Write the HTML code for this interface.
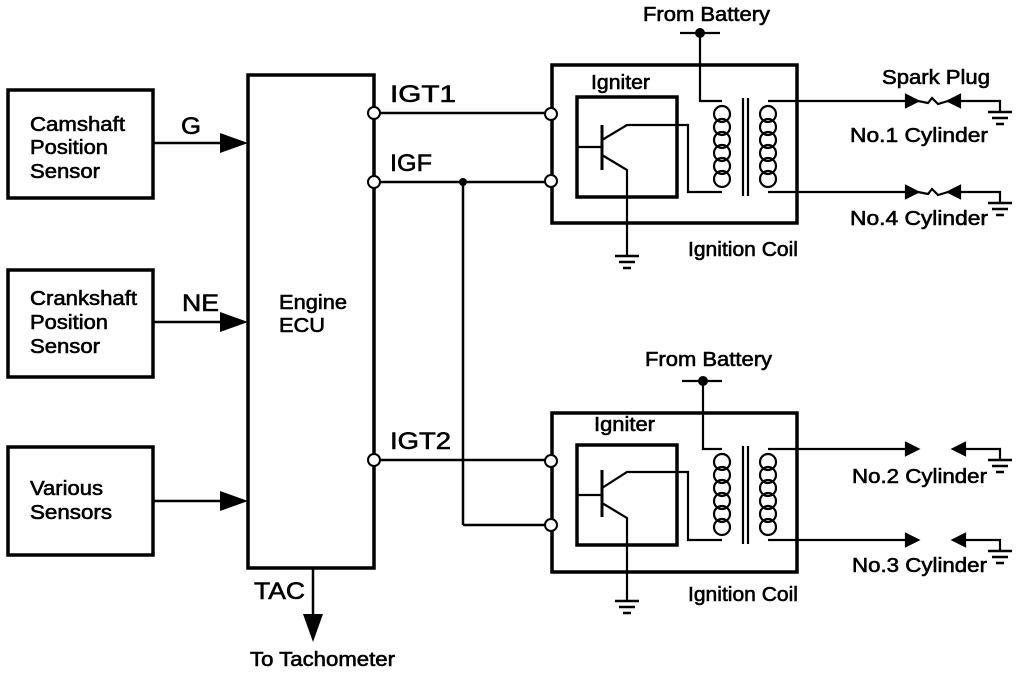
<!DOCTYPE html>
<html><head><meta charset="utf-8"><style>
html,body{margin:0;padding:0;background:#fff;}
svg{display:block;}
text{font-family:"Liberation Sans",sans-serif;fill:#000;stroke:#000;stroke-width:0.6;}
</style></head><body>
<svg width="1024" height="674" viewBox="0 0 1024 674" xmlns="http://www.w3.org/2000/svg">
<defs>
<g id="coil" fill="none" stroke="#000" stroke-width="2.2">
  <ellipse cx="0" cy="0" rx="8" ry="8"/><ellipse cx="0" cy="13" rx="8" ry="8"/><ellipse cx="0" cy="26" rx="8" ry="8"/><ellipse cx="0" cy="39" rx="8" ry="8"/><ellipse cx="0" cy="52" rx="8" ry="8"/><ellipse cx="0" cy="65" rx="8" ry="8"/>
</g>
<g id="gnd" stroke="#000" stroke-width="2.5">
  <line x1="-12" y1="0" x2="12" y2="0"/><line x1="-8" y1="6" x2="8" y2="6"/><line x1="-4" y1="12" x2="4" y2="12"/>
</g>
</defs>
<g fill="none" stroke="#000" stroke-width="3.5">
  <rect x="8" y="90" width="145" height="108"/>
  <rect x="8" y="270" width="145" height="107"/>
  <rect x="8" y="447" width="145" height="108"/>
  <rect x="248" y="75" width="126" height="493"/>
</g>
<g stroke="#000" stroke-width="2.5">
  <line x1="153" y1="143" x2="225" y2="143"/>
  <line x1="153" y1="322" x2="225" y2="322"/>
  <line x1="153" y1="501" x2="225" y2="501"/>
  <line x1="313" y1="568" x2="313" y2="620"/>
  <line x1="380" y1="113" x2="545" y2="113"/>
  <line x1="380" y1="182" x2="545" y2="182"/>
  <line x1="380" y1="460" x2="545" y2="460"/>
  <line x1="463" y1="182" x2="463" y2="525"/>
  <line x1="463" y1="525" x2="545" y2="525"/>
</g>
<g fill="#000">
  <polygon points="220,133 248,143 220,153"/>
  <polygon points="220,312 248,322 220,332"/>
  <polygon points="220,491 248,501 220,511"/>
  <polygon points="303,614 323,614 313,642"/>
  <circle cx="463" cy="182" r="4"/>
</g>
<g fill="#fff" stroke="#000" stroke-width="2">
  <circle cx="374" cy="113" r="6"/><circle cx="374" cy="182" r="6"/><circle cx="374" cy="460" r="6"/>
</g>
<g font-size="20">
<text x="30" y="131" textLength="95" lengthAdjust="spacingAndGlyphs">Camshaft</text>
<text x="30" y="154" textLength="78" lengthAdjust="spacingAndGlyphs">Position</text>
<text x="30" y="178" textLength="70" lengthAdjust="spacingAndGlyphs">Sensor</text>
<text x="30" y="305" textLength="107" lengthAdjust="spacingAndGlyphs">Crankshaft</text>
<text x="30" y="329" textLength="78" lengthAdjust="spacingAndGlyphs">Position</text>
<text x="30" y="353" textLength="70" lengthAdjust="spacingAndGlyphs">Sensor</text>
<text x="30" y="495" textLength="73" lengthAdjust="spacingAndGlyphs">Various</text>
<text x="30" y="519" textLength="82" lengthAdjust="spacingAndGlyphs">Sensors</text>
<text x="279" y="309" textLength="68" lengthAdjust="spacingAndGlyphs">Engine</text>
<text x="279" y="332" textLength="46" lengthAdjust="spacingAndGlyphs">ECU</text>
</g>
<g font-size="24">
<text x="181" y="134" textLength="20" lengthAdjust="spacingAndGlyphs">G</text>
<text x="182" y="311" textLength="37" lengthAdjust="spacingAndGlyphs">NE</text>
<text x="390" y="102" textLength="66" lengthAdjust="spacingAndGlyphs">IGT1</text>
<text x="390" y="171" textLength="42" lengthAdjust="spacingAndGlyphs">IGF</text>
<text x="390" y="449" textLength="61" lengthAdjust="spacingAndGlyphs">IGT2</text>
<text x="254" y="599" textLength="51" lengthAdjust="spacingAndGlyphs">TAC</text>
</g>
<g font-size="20">
<text x="250" y="666" textLength="145" lengthAdjust="spacingAndGlyphs">To Tachometer</text>
<text x="591" y="89" textLength="59" lengthAdjust="spacingAndGlyphs">Igniter</text>
<text x="688" y="256" textLength="110" lengthAdjust="spacingAndGlyphs">Ignition Coil</text>
<text x="643" y="21" textLength="127" lengthAdjust="spacingAndGlyphs">From Battery</text>
<text x="882" y="84" textLength="108" lengthAdjust="spacingAndGlyphs">Spark Plug</text>
<text x="850" y="142" textLength="138" lengthAdjust="spacingAndGlyphs">No.1 Cylinder</text>
<text x="850" y="225" textLength="138" lengthAdjust="spacingAndGlyphs">No.4 Cylinder</text>
<text x="594" y="431" textLength="61" lengthAdjust="spacingAndGlyphs">Igniter</text>
<text x="688" y="601" textLength="110" lengthAdjust="spacingAndGlyphs">Ignition Coil</text>
<text x="645" y="366" textLength="127" lengthAdjust="spacingAndGlyphs">From Battery</text>
<text x="852" y="483" textLength="135" lengthAdjust="spacingAndGlyphs">No.2 Cylinder</text>
<text x="852" y="572" textLength="135" lengthAdjust="spacingAndGlyphs">No.3 Cylinder</text>
</g>

<!-- Coil unit 1 -->
<g fill="none" stroke="#000" stroke-width="3.5">
  <rect x="552" y="65" width="245" height="158"/>
  <rect x="577" y="97" width="100" height="100"/>
</g>
<g fill="none" stroke="#000" stroke-width="2.2">
  <line x1="602" y1="125" x2="602" y2="170" stroke-width="3"/>
  <line x1="577" y1="147" x2="602" y2="147"/>
  <polyline points="602,140 627,125 688,125 688,192 722,192"/>
  <polyline points="602,155 627,170 627,255"/>
  <line x1="680" y1="33" x2="720" y2="33"/>
  <polyline points="700,33 700,101 722,101"/>
  <line x1="743" y1="98" x2="743" y2="196"/>
  <line x1="748" y1="98" x2="748" y2="196"/>
  <line x1="768" y1="101" x2="906" y2="101"/>
  <line x1="768" y1="192" x2="906" y2="192"/>
</g>
<use href="#coil" x="722" y="114"/>
<use href="#coil" x="768" y="114"/>
<use href="#gnd" x="627" y="256"/>
<circle cx="700" cy="33" r="5" fill="#000"/>
<g fill="#fff" stroke="#000" stroke-width="2"><circle cx="551" cy="114" r="6"/><circle cx="551" cy="181" r="6"/></g>
<g stroke="#000" stroke-width="2.2" fill="#000">
  <polygon points="906,95 918,101 906,107"/>
  <polyline fill="none" points="918,101 928,103 932,98 938,104 948,101"/>
  <polygon points="960,95 948,101 960,107"/>
  <polyline fill="none" points="960,101 1000,101 1000,111"/>
  <polygon points="906,186 918,192 906,198"/>
  <polyline fill="none" points="918,192 928,194 932,189 938,195 948,192"/>
  <polygon points="960,186 948,192 960,198"/>
  <polyline fill="none" points="960,192 1000,192 1000,202"/>
</g>
<use href="#gnd" x="1000" y="112"/>
<use href="#gnd" x="1000" y="203"/>

<!-- Coil unit 2 -->
<g fill="none" stroke="#000" stroke-width="3.5">
  <rect x="552" y="413" width="245" height="159"/>
  <rect x="577" y="445" width="100" height="100"/>
</g>
<g fill="none" stroke="#000" stroke-width="2.2">
  <line x1="602" y1="470" x2="602" y2="517" stroke-width="3"/>
  <line x1="577" y1="495" x2="602" y2="495"/>
  <polyline points="602,488 627,472 688,472 688,540 722,540"/>
  <polyline points="602,503 627,518 627,600"/>
  <line x1="682" y1="381" x2="722" y2="381"/>
  <polyline points="703,381 703,449 722,449"/>
  <line x1="743" y1="446" x2="743" y2="544"/>
  <line x1="748" y1="446" x2="748" y2="544"/>
  <line x1="768" y1="449" x2="918" y2="449"/>
  <line x1="768" y1="540" x2="918" y2="540"/>
</g>
<use href="#coil" x="722" y="462"/>
<use href="#coil" x="768" y="462"/>
<use href="#gnd" x="627" y="601"/>
<circle cx="703" cy="381" r="5" fill="#000"/>
<g fill="#fff" stroke="#000" stroke-width="2"><circle cx="551" cy="461" r="6"/><circle cx="551" cy="525" r="6"/></g>
<g stroke="#000" stroke-width="2.2" fill="#000">
  <polygon points="906,443 918,449 906,455"/>
  <polygon points="965,443 953,449 965,455"/>
  <polyline fill="none" points="965,449 1000,449 1000,459"/>
  <polygon points="906,534 918,540 906,546"/>
  <polygon points="965,534 953,540 965,546"/>
  <polyline fill="none" points="965,540 1000,540 1000,550"/>
</g>
<use href="#gnd" x="1000" y="460"/>
<use href="#gnd" x="1000" y="551"/>
</svg>
</body></html>
